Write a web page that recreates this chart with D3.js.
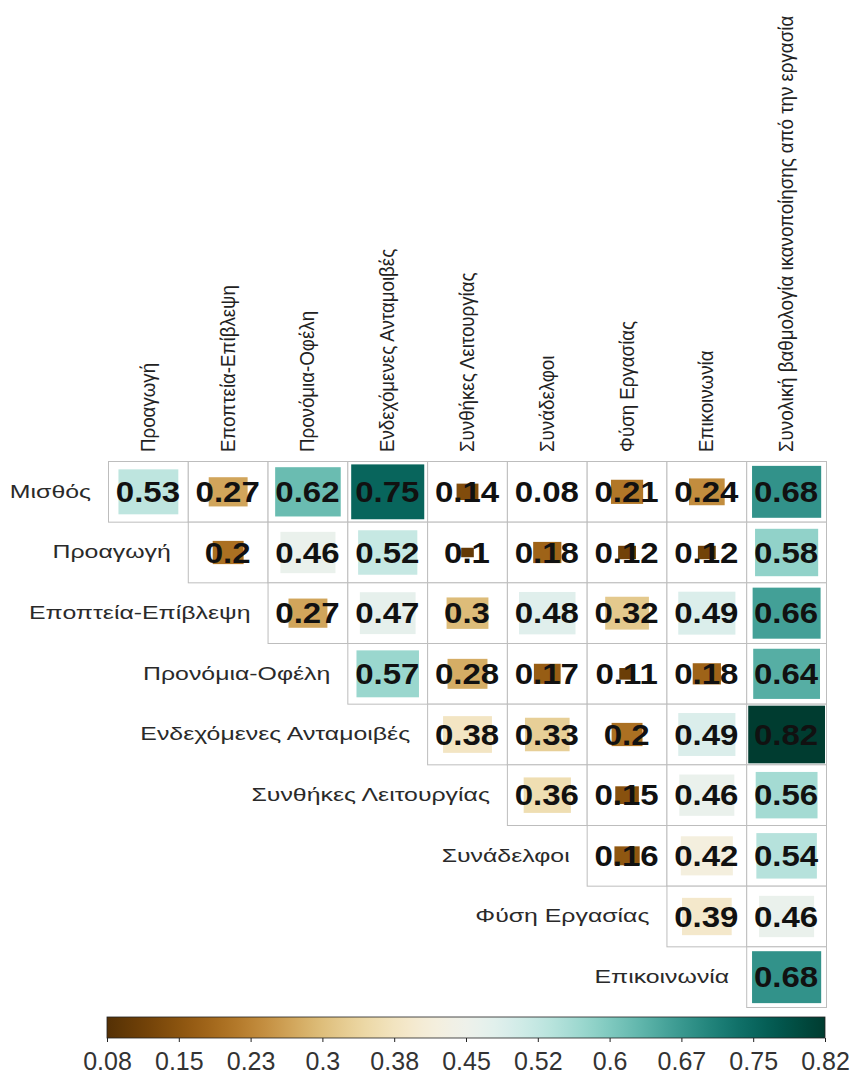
<!DOCTYPE html>
<html>
<head>
<meta charset="utf-8">
<script src="https://cdn.jsdelivr.net/npm/d3@7"></script>
<style>
  body { margin: 0; background: #fff; }
  text { font-family: "Liberation Sans", Arial, sans-serif; }
</style>
</head>
<body>
<script>

// row and column variables of the matrix
var rowNames = ["Μισθός", "Προαγωγή", "Εποπτεία-Επίβλεψη", "Προνόμια-Οφέλη",
  "Ενδεχόμενες Ανταμοιβές", "Συνθήκες Λειτουργίας", "Συνάδελφοι",
  "Φύση Εργασίας", "Επικοινωνία"];

var colNames = ["Προαγωγή", "Εποπτεία-Επίβλεψη", "Προνόμια-Οφέλη",
  "Ενδεχόμενες Ανταμοιβές", "Συνθήκες Λειτουργίας", "Συνάδελφοι",
  "Φύση Εργασίας", "Επικοινωνία",
  "Συνολική βαθμολογία ικανοποίησης από την εργασία"];

// upper triangle: row i starts at column i
var corrRows = [
  [0.53, 0.27, 0.62, 0.75, 0.14, 0.08, 0.21, 0.24, 0.68],
  [0.2, 0.46, 0.52, 0.1, 0.18, 0.12, 0.12, 0.58],
  [0.27, 0.47, 0.3, 0.48, 0.32, 0.49, 0.66],
  [0.57, 0.28, 0.17, 0.11, 0.18, 0.64],
  [0.38, 0.33, 0.2, 0.49, 0.82],
  [0.36, 0.15, 0.46, 0.56],
  [0.16, 0.42, 0.54],
  [0.39, 0.46],
  [0.68]
];

var legendLabels = ["0.08", "0.15", "0.23", "0.3", "0.38", "0.45",
  "0.52", "0.6", "0.67", "0.75", "0.82"];

var width = 856,
    height = 1081;

var svg = d3.select("body")
            .append("svg")
            .attr("width", width)
            .attr("height", height);

svg.append("rect")
    .attr("width", width)
    .attr("height", height)
    .attr("fill", "#fff");

var x = d3.scaleBand().domain(d3.range(colNames.length)).range([108, 826]);
var y = d3.scaleBand().domain(d3.range(rowNames.length)).range([461, 1007]);

var vmin = 0.08, vmax = 0.82;
var color = d3.scaleSequential(d3.interpolateBrBG).domain([vmin, vmax]);
var scaled = d3.scaleLinear().domain([vmin, vmax]).range([0, 1]);
// side of square ~ sqrt of the scaled value (like corrplot "square")
function size(v) { return Math.sqrt(scaled(v)); }

// flatten into cells
var cells = [];
corrRows.forEach(function(row, i) {
    row.forEach(function(v, j) {
        cells.push({row: i, col: i + j, value: v});
    });
});

var grid = svg.append("g").attr("class", "cells");

// grid frame of each cell
grid.selectAll("rect.frame")
    .data(cells)
  .enter().append("rect")
    .attr("class", "frame")
    .attr("x", function(d) { return x(d.col) + 0.5; })
    .attr("y", function(d) { return y(d.row) + 0.5; })
    .attr("width", x.bandwidth())
    .attr("height", y.bandwidth())
    .attr("fill", "#fff")
    .attr("stroke", "#bdbdbd")
    .attr("stroke-width", 1);

// coloured squares
grid.selectAll("rect.sq")
    .data(cells)
  .enter().append("rect")
    .attr("class", "sq")
    .attr("x", function(d) { return x(d.col) + x.bandwidth() / 2 - size(d.value) * (x.bandwidth() - 3) / 2 + 0.5; })
    .attr("y", function(d) { return y(d.row) + y.bandwidth() / 2 - size(d.value) * (y.bandwidth() - 3) / 2 + 0.5; })
    .attr("width", function(d) { return size(d.value) * (x.bandwidth() - 3); })
    .attr("height", function(d) { return size(d.value) * (y.bandwidth() - 3); })
    .attr("fill", function(d) { return color(d.value); });

// numbers
grid.selectAll("text.val")
    .data(cells)
  .enter().append("text")
    .attr("class", "val")
    .attr("transform", function(d) {
        return "translate(" + (x(d.col) + x.bandwidth() / 2) + "," + (y(d.row) + y.bandwidth() / 2) + ") scale(1.1,1)";
    })
    .attr("text-anchor", "middle")
    .attr("dy", "0.36em")
    .style("font-size", "30px")
    .style("font-weight", "bold")
    .style("fill", "#111")
    .text(function(d) { return String(d.value); });

// row labels, at the start of each row
svg.append("g").selectAll("text")
    .data(rowNames)
  .enter().append("text")
    .attr("transform", function(d, i) {
        return "translate(" + (x(i) - 17) + "," + (y(i) + y.bandwidth() / 2) + ") scale(1.38,1)";
    })
    .attr("text-anchor", "end")
    .attr("dy", "0.35em")
    .style("font-size", "18px")
    .style("fill", "#2a2a2a")
    .text(function(d) { return d; });

// column labels, rotated
svg.append("g").selectAll("text")
    .data(colNames)
  .enter().append("text")
    .attr("transform", function(d, i) {
        return "translate(" + (x(i) + x.bandwidth() / 2) + ",452) rotate(-90) scale(1.17,1.25)";
    })
    .attr("text-anchor", "start")
    .attr("dy", "0.35em")
    .style("font-size", "16px")
    .style("fill", "#222")
    .text(function(d) { return d; });

// colour legend
var legX = d3.scalePoint().domain(legendLabels).range([107, 825]);

var grad = svg.append("defs").append("linearGradient")
    .attr("id", "legGrad")
    .attr("x1", "0%").attr("x2", "100%")
    .attr("y1", "0%").attr("y2", "0%");

grad.selectAll("stop")
    .data(d3.range(0, 1.0001, 0.02))
  .enter().append("stop")
    .attr("offset", function(t) { return (t * 100) + "%"; })
    .attr("stop-color", function(t) { return d3.interpolateBrBG(t); });

svg.append("rect")
    .attr("x", 107)
    .attr("y", 1017)
    .attr("width", 718)
    .attr("height", 21)
    .attr("fill", "url(#legGrad)")
    .attr("stroke", "#222")
    .attr("stroke-width", 0.8);

var legAxis = svg.append("g")
    .attr("transform", "translate(0,1038)")
    .call(d3.axisBottom(legX).tickSize(4).tickPadding(10));

legAxis.select(".domain").remove();
legAxis.selectAll(".tick line").attr("stroke", "#222");
legAxis.selectAll(".tick text")
    .style("font-size", "25px")
    .style("font-family", "'Liberation Sans', Arial, sans-serif")
    .style("fill", "#333");

</script>
</body>
</html>
